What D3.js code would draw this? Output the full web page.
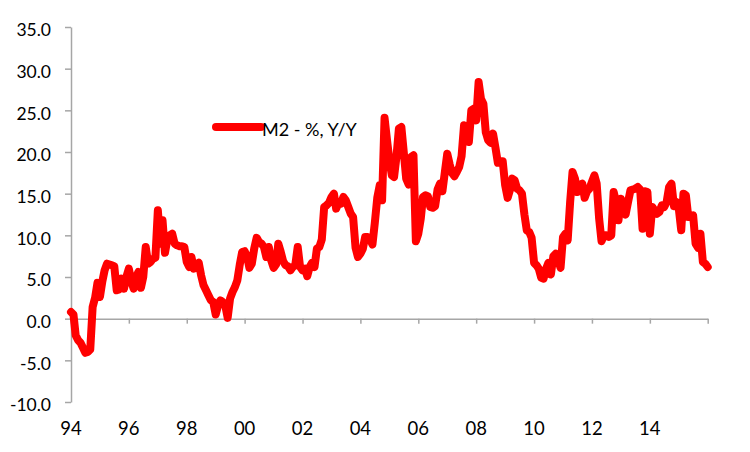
<!DOCTYPE html>
<html>
  <head>
    <meta charset="utf-8" />
    <script src="https://d3js.org/d3.v7.min.js"></script>
    <style>
      body {
        margin: 0;
        background: #ffffff;
        font-family: "Lato", sans-serif;
      }
    </style>
    <title>M2 Y/Y</title>
  </head>

  <body>
    <svg id="chart" width="750" height="452"></svg>

    <script>
      var seriesName = "M2 - %, Y/Y";
      var startYear = 1994;

      // monthly readings, Jan 1994 .. Jan 2016
      var m2Values = [
        0.8, 0.5, -2.0, -2.6, -2.9, -3.5, -4.1, -4.0, -3.7, 1.4, 2.5, 4.3,
        2.6, 4.5, 5.8, 6.6, 6.5, 6.4, 6.3, 3.4, 3.5, 4.8, 3.6, 5.0,
        6.0, 4.5, 3.6, 5.0, 5.6, 3.7, 5.0, 8.6, 6.6, 6.8, 7.2, 7.3,
        13.0, 9.0, 11.8, 7.9, 9.5, 10.0, 10.2, 9.0, 8.8, 8.7, 8.7, 8.6,
        6.8, 6.2, 7.4, 6.0, 6.5, 6.7, 5.2, 4.0, 3.4, 2.8, 2.2, 2.0,
        0.5, 1.6, 2.2, 2.0, 1.6, 0.1, 2.4, 3.2, 3.8, 4.6, 6.5, 8.0,
        8.1, 7.5, 6.1, 6.6, 8.4, 9.7, 9.2, 9.0, 8.6, 7.4, 8.6, 7.0,
        6.1, 6.5, 9.0, 8.0, 6.9, 6.4, 6.3, 5.8, 6.2, 6.4, 8.6, 6.2,
        5.8, 6.0, 5.1, 6.2, 6.7, 6.2, 8.4, 8.6, 9.5, 13.4, 13.6, 13.9,
        14.6, 15.0, 13.2, 13.9, 13.8, 14.6, 14.2, 13.4, 12.6, 12.2, 8.5, 7.4,
        7.8, 8.4, 9.8, 9.8, 9.6, 8.9, 11.5, 14.5, 16.0, 14.2, 24.1, 21.5,
        19.0, 17.2, 17.0, 19.5, 22.8, 23.0, 20.0, 16.8, 16.1, 19.4, 19.6, 9.3,
        10.2, 12.0, 14.6, 14.8, 14.7, 13.4, 13.3, 13.5, 15.5, 16.2, 15.3, 17.5,
        19.8, 18.5, 17.5, 17.1, 17.6, 18.2, 19.5, 23.2, 22.5, 21.2, 25.0, 25.2,
        23.8, 28.4, 26.4, 25.8, 22.4, 21.4, 21.1, 22.2, 20.5, 18.7, 18.9, 18.9,
        16.0, 14.5, 15.4, 16.8, 16.6, 15.6, 15.4, 15.0, 12.5, 10.6, 10.4, 9.7,
        6.7, 6.4, 6.0, 4.9, 4.8, 6.0, 6.7, 5.3, 7.5, 7.8, 7.0, 6.1,
        9.8, 10.2, 9.4, 14.0, 17.6, 16.8, 15.2, 16.0, 16.2, 14.5, 15.3, 15.6,
        16.4, 17.2, 16.2, 12.0, 9.3, 10.0, 10.0, 9.8, 10.0, 15.2, 14.0, 11.8,
        14.4, 13.0, 12.5, 14.0, 15.4, 15.5, 15.6, 15.8, 15.5, 10.8, 15.3, 15.2,
        10.2, 13.4, 13.0, 12.6, 12.8, 13.6, 13.4, 14.0, 15.8, 16.2, 13.5, 14.0,
        13.2, 10.6, 15.0, 14.8, 12.2, 12.3, 12.4, 9.0, 8.5, 10.2, 6.8, 6.6,
        6.2,
      ];

      var yTicks = [-10, -5, 0, 5, 10, 15, 20, 25, 30, 35];
      var xTickYears = [1994, 1996, 1998, 2000, 2002, 2004, 2006, 2008, 2010, 2012, 2014, 2016];
      var xTickLabels = ["94", "96", "98", "00", "02", "04", "06", "08", "10", "12", "14", ""];

      var data = m2Values.map((v, i) => ({ date: new Date(startYear, i, 1), value: v }));

      var canvas = d3.select("#chart");
      var axisColor = "#a6a6a6";

      var xScale = d3
        .scaleTime()
        .domain([new Date(1994, 0, 1), new Date(2016, 0, 1)])
        .range([71, 707.7]);

      var yScale = d3.scaleLinear().domain([-10, 35]).range([402, 27]);

      // y axis, plain hyphen for negatives
      var yAxis = d3
        .axisLeft(yScale)
        .tickValues(yTicks)
        .tickFormat((d) => d.toFixed(1))
        .tickSize(6)
        .tickSizeOuter(0)
        .tickPadding(14);

      var yg = canvas
        .append("g")
        .attr("transform", "translate(" + 71 + ",0)")
        .call(yAxis);
      yg.selectAll("line,path").style("stroke", axisColor).style("stroke-width", "1.5px");
      yg.selectAll("text")
        .attr("dy", "0.5em")
        .style("font-family", "Lato")
        .style("font-size", "17.5px")
        .style("fill", "#000");

      // x axis sits on zero
      var xAxis = d3
        .axisBottom(xScale)
        .tickValues(xTickYears.map((y) => new Date(y, 0, 1)))
        .tickFormat("")
        .tickSize(5)
        .tickSizeOuter(0);

      var xg = canvas
        .append("g")
        .attr("transform", "translate(0," + yScale(0) + ")")
        .call(xAxis);
      xg.selectAll("line,path").style("stroke", axisColor).style("stroke-width", "1.5px");

      // x labels are drawn at the bottom of the plot area
      canvas
        .append("g")
        .selectAll("text")
        .data(xTickYears)
        .enter()
        .append("text")
        .attr("x", (d) => xScale(new Date(d, 0, 1)))
        .attr("y", 435)
        .attr("text-anchor", "middle")
        .style("font-family", "Lato")
        .style("font-size", "18.5px")
        .style("fill", "#000")
        .text((d, i) => xTickLabels[i]);

      var line = d3
        .line()
        .x((d) => xScale(d.date))
        .y((d) => yScale(d.value));

      canvas
        .append("path")
        .datum(data)
        .attr("d", line)
        .style("fill", "none")
        .style("stroke", "#ff0000")
        .style("stroke-width", "8px")
        .style("stroke-linejoin", "round")
        .style("stroke-linecap", "round");

      // legend
      var legend = canvas.append("g").attr("transform", "translate(216,127)");
      legend
        .append("line")
        .attr("x1", 0)
        .attr("x2", 45)
        .attr("y1", 0)
        .attr("y2", 0)
        .style("stroke", "#ff0000")
        .style("stroke-width", "8px")
        .style("stroke-linecap", "round");
      legend
        .append("text")
        .attr("x", 46)
        .attr("y", 9)
        .style("font-family", "Lato")
        .style("font-size", "18px")
        .style("fill", "#000")
        .text(seriesName);
    </script>
  </body>
</html>
